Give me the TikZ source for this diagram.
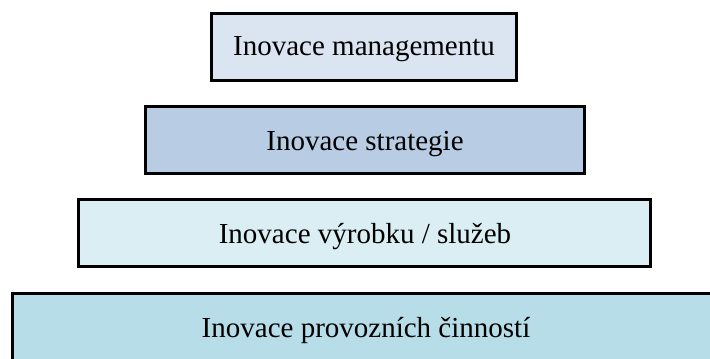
\documentclass[tikz,border=0pt]{standalone}
\usepackage{fontspec}
\setmainfont{Liberation Serif}
\definecolor{fillA}{HTML}{DBE5F1}
\definecolor{fillB}{HTML}{B8CCE4}
\definecolor{fillC}{HTML}{DAEEF3}
\definecolor{fillD}{HTML}{B6DDE8}
\tikzset{
  layerbox/.style={draw=black, line width=3bp},
  layertext/.style={anchor=base, inner sep=0pt, font=\fontsize{29bp}{34bp}\selectfont, text=black}
}
\begin{document}
\begin{tikzpicture}[x=1bp, y=-1bp]
\useasboundingbox (0,0) rectangle (710,358);
\clip (0,0) rectangle (710,358);
\fill[white] (0,0) rectangle (710,358);
\draw[layerbox, fill=fillA] (211.5,13.5) rectangle (516.5,80.5);
\draw[layerbox, fill=fillB] (145.5,106.5) rectangle (584.5,173.5);
\draw[layerbox, fill=fillC] (78.5,199.5) rectangle (650.5,266.5);
\draw[layerbox, fill=fillD] (12.5,293.5) rectangle (725,375);
\node[layertext] (t1) at (364,55) {Inovace managementu};
\node[layertext] (t2) at (365,150) {Inovace strategie};
\node[layertext] (t3) at (365,243) {Inovace výrobku / služeb};
\node[layertext] (t4) at (366,337) {Inovace provozních činností};
\end{tikzpicture}
\end{document}
